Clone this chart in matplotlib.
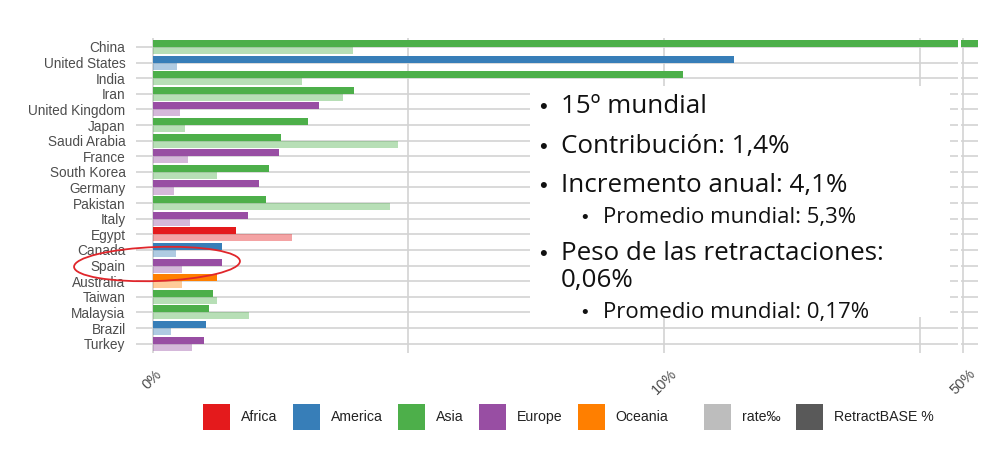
import numpy as np
import matplotlib
matplotlib.use("Agg")
import matplotlib.pyplot as plt
from matplotlib.patches import Patch, Rectangle, Ellipse
from matplotlib.transforms import IdentityTransform

plt.rcParams['font.family'] = ['Liberation Sans', 'DejaVu Sans']

# datos
countries = ["China", "United States", "India", "Iran", "United Kingdom", "Japan",
             "Saudi Arabia", "France", "South Korea", "Germany", "Pakistan", "Italy",
             "Egypt", "Canada", "Spain", "Australia", "Taiwan", "Malaysia", "Brazil", "Turkey"]
continent = ["Asia", "America", "Asia", "Asia", "Europe", "Asia", "Asia", "Europe", "Asia",
             "Europe", "Asia", "Europe", "Africa", "America", "Europe", "Oceania", "Asia",
             "Asia", "America", "Europe"]
retract_base = [50.5, 11.37, 10.37, 3.94, 3.26, 3.04, 2.51, 2.47, 2.27, 2.08, 2.22, 1.87,
                1.63, 1.36, 1.35, 1.26, 1.18, 1.10, 1.05, 1.01]
rate = [3.92, 0.48, 2.92, 3.72, 0.54, 0.64, 4.80, 0.69, 1.26, 0.42, 4.64, 0.73, 2.73,
        0.46, 0.58, 0.58, 1.26, 1.89, 0.36, 0.77]

continents = ["Africa", "America", "Asia", "Europe", "Oceania"]
pal = {"Africa": "#E41A1C", "America": "#377EB8", "Asia": "#4DAF4A",
       "Europe": "#984EA3", "Oceania": "#FF7F00"}

bullets = [("•", "15º mundial", 0), ("•", "Contribución: 1,4%", 0),
           ("•", "Incremento anual: 4,1%", 0), ("•", "Promedio mundial: 5,3%", 1),
           ("•", "Peso de las retractaciones:", 0), ("", "0,06%", 0),
           ("•", "Promedio mundial: 0,17%", 1)]
baselines = [113, 153, 192, 223, 260, 287, 318]

grid_c = "#d3d3d3"
txt_c = "#4d4d4d"

fig = plt.figure(figsize=(10, 4.51), dpi=100)
H = 451.0
bot = 1 - 353 / H
hgt = (353 - 37.6) / H
ax = fig.add_axes([0.136, bot, 0.822, hgt])
ax2 = fig.add_axes([0.961, bot, 0.017, hgt])

y = np.arange(len(countries))
cols = [pal[c] for c in continent]

for a in (ax, ax2):
    a.barh(y - 0.225, retract_base, height=0.45, color=cols, zorder=2)
    a.barh(y + 0.225, rate, height=0.45, color=cols, alpha=0.4, zorder=2, lw=0)
    a.set_ylim(len(countries) - 0.4, -0.6)
    a.set_yticks(y)
    a.grid(axis='y', color=grid_c, lw=1.2, zorder=0)
    a.grid(axis='x', which='both', color=grid_c, lw=1.2, zorder=0)
    a.set_axisbelow(True)
    for s in a.spines.values():
        s.set_visible(False)
    a.tick_params(axis='both', which='both', length=0)

ax.set_xlim(-0.3226, 15.748)
ax.set_xticks([0, 10])
ax.set_xticks([5, 15], minor=True)
ax.set_xticklabels(["0%", "10%"], rotation=45, ha='center')
ax.set_yticklabels(countries)
ax.tick_params(axis='y', pad=7.5, labelsize=9.8, labelcolor=txt_c)
ax.tick_params(axis='x', pad=10, labelsize=10.5, labelcolor=txt_c)

ax2.set_xlim(49.961, 50.293)
ax2.set_xticks([50])
ax2.set_xticklabels(["50%"], rotation=45, ha='center')
ax2.set_yticklabels([])
ax2.tick_params(axis='x', pad=10, labelsize=10.5, labelcolor=txt_c)

# leyendas
h1 = [Patch(facecolor=pal[c], edgecolor='none') for c in continents]
h2 = [Patch(facecolor="#bdbdbd", edgecolor='none'), Patch(facecolor="#595959", edgecolor='none')]
kw = dict(frameon=False, fontsize=10.2, handlelength=1.9, handleheight=2.55,
          handletextpad=0.78, columnspacing=1.08, borderpad=0, borderaxespad=0,
          loc='center left', labelcolor='#222222')
leg1 = fig.legend(h1, continents, ncol=5, bbox_to_anchor=(0.2033, 1 - 417 / H), **kw)
leg2 = fig.legend(h2, ["rate‰", "RetractBASE %"], ncol=2, bbox_to_anchor=(0.704, 1 - 417 / H), **kw)

# cuadro de texto encima del grafico
fig.add_artist(Rectangle((530 / 1000, 1 - 317 / H), 420 / 1000, 231 / H,
                         transform=fig.transFigure, facecolor='white', edgecolor='none', zorder=5))
for (b, t, lvl), yb in zip(bullets, baselines):
    fs = 18.7 if lvl == 0 else 16
    xb = 543 if lvl == 0 else 585
    xt = 561 if lvl == 0 else 603
    if b:
        fig.text(xb / 1000, 1 - yb / H, b, fontsize=fs * 0.85, ha='center', va='baseline',
                 color='#111111', zorder=6)
    fig.text(xt / 1000, 1 - yb / H, t, fontsize=fs, ha='left', va='baseline',
             family=['Open Sans', 'DejaVu Sans'], color='#111111', zorder=6)

# marca roja alrededor de Spain
fig.add_artist(Ellipse((157, H - 264), 166, 34, angle=2, transform=IdentityTransform(),
                       facecolor='none', edgecolor='#e0262b', lw=1.3, zorder=7))

fig.savefig("out.png", dpi=100)
